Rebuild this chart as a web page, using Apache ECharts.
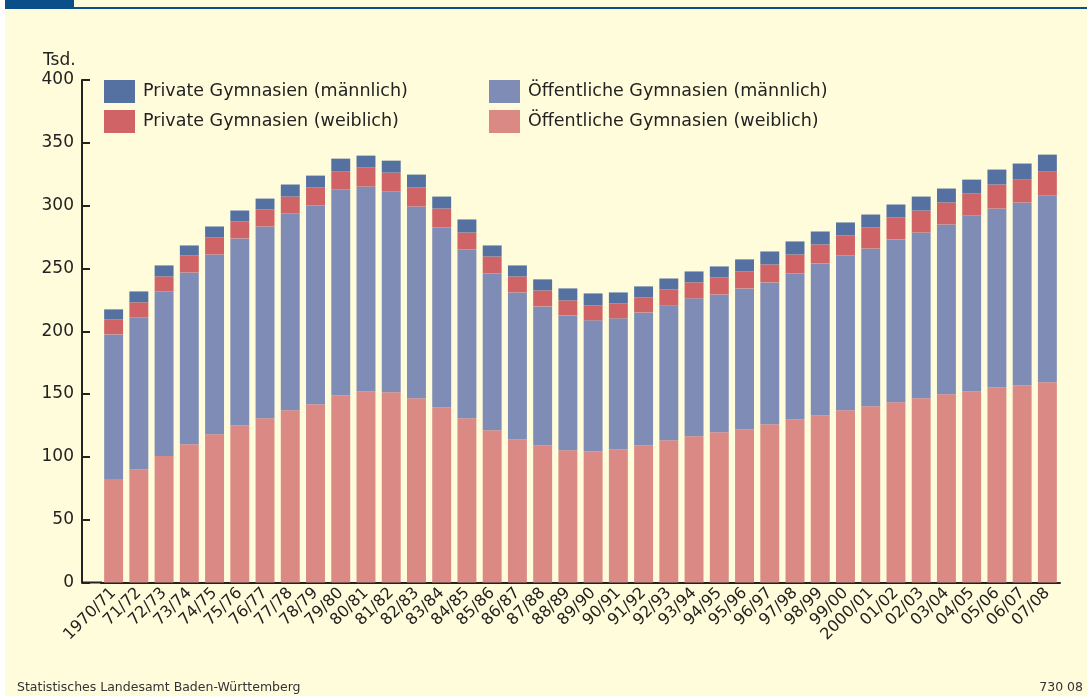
<!DOCTYPE html>
<html>
<head>
<meta charset="utf-8">
<script src="https://cdn.jsdelivr.net/npm/echarts@6/dist/echarts.min.js"></script>
<style>
  html, body { margin: 0; padding: 0; background: #fff; }
  #demo { width: 1087px; height: 696px; }
</style>
</head>
<body>
<div id="demo"></div>
<script>
// Schuljahre
var years = ['1970/71','71/72','72/73','73/74','74/75','75/76','76/77','77/78','78/79','79/80',
  '80/81','81/82','82/83','83/84','84/85','85/86','86/87','87/88','88/89','89/90',
  '90/91','91/92','92/93','93/94','94/95','95/96','96/97','97/98','98/99','99/00',
  '2000/01','01/02','02/03','03/04','04/05','05/06','06/07','07/08'];

// Tsd. Schüler
var oeffWeiblich = [82.3, 90.2, 100.6, 110.1, 118.1, 125.2, 130.8, 137.1, 141.9, 149.0,
  152.2, 151.4, 146.7, 139.5, 130.8, 121.2, 114.1, 109.3, 105.3, 104.5,
  106.1, 109.3, 113.3, 116.5, 119.6, 122.0, 126.0, 130.0, 133.2, 137.1,
  140.3, 143.5, 146.7, 149.8, 152.2, 155.4, 157.0, 159.4];
var oeffMaennlich = [115.2, 120.6, 130.9, 136.7, 143.0, 148.7, 152.6, 156.6, 158.2, 163.8,
  163.0, 159.8, 152.6, 143.1, 134.3, 124.8, 116.8, 110.5, 107.3, 104.2,
  104.2, 105.7, 107.3, 109.7, 109.7, 112.1, 112.9, 116.0, 120.8, 123.2,
  125.6, 129.6, 131.9, 135.2, 139.9, 142.3, 145.5, 148.6];
var privWeiblich = [12.0, 12.2, 12.1, 13.5, 13.5, 13.5, 13.5, 13.5, 14.3, 14.3,
  15.1, 15.1, 15.1, 15.1, 13.5, 13.5, 12.7, 12.7, 12.0, 11.9,
  11.9, 12.0, 12.7, 12.7, 13.5, 13.5, 14.3, 15.1, 15.1, 15.9,
  16.7, 17.4, 17.5, 17.5, 17.5, 19.1, 18.2, 19.1];
var privMaennlich = [7.9, 8.7, 8.8, 8.0, 8.8, 8.7, 8.7, 9.6, 9.5, 10.3,
  9.5, 9.5, 10.3, 9.5, 10.4, 8.8, 8.8, 8.8, 9.5, 9.5,
  8.7, 8.7, 8.7, 8.7, 8.8, 9.6, 10.3, 10.4, 10.3, 10.4,
  10.3, 10.4, 11.1, 11.1, 11.1, 11.9, 12.8, 13.5];

var yTicks = [0, 50, 100, 150, 200, 250, 300, 350, 400];

var font = '"DejaVu Sans", sans-serif';
var txt = '#222';

var myChart = echarts.init(document.getElementById('demo'));

var option = {
  backgroundColor: '#fffcdb',
  textStyle: { fontFamily: font },
  animation: false,
  graphic: [
    // weisser Rand links
    { type: 'rect', shape: { x: 0, y: 0, width: 5, height: 696 }, style: { fill: '#fff' } },
    // Kopfleiste
    { type: 'rect', shape: { x: 5, y: 0, width: 69, height: 7 }, style: { fill: '#0b4f8a' } },
    { type: 'rect', shape: { x: 5, y: 7, width: 1082, height: 2 }, style: { fill: '#0b4f8a' } },
    // x-Achse bis zur y-Achse verlängern
    { type: 'line', shape: { x1: 81, y1: 582.5, x2: 102, y2: 582.5 }, style: { stroke: '#222', lineWidth: 2 } },
    { type: 'text', left: 43, top: 52, style: { text: 'Tsd.', font: '17px ' + font, fill: txt } },
    { type: 'text', left: 17, top: 681, style: { text: 'Statistisches Landesamt Baden-Württemberg', font: '12.5px ' + font, fill: '#333' } },
    { type: 'text', right: 4, top: 681, style: { text: '730 08', font: '12.5px ' + font, fill: '#333' } }
  ],
  legend: [{
    left: 104, top: 80, orient: 'vertical', padding: 0,
    itemWidth: 31, itemHeight: 23, itemGap: 7, icon: 'rect',
    textStyle: { fontSize: 17.5, color: txt, padding: [0, 0, 0, 3] },
    data: ['Private Gymnasien (männlich)', 'Private Gymnasien (weiblich)']
  }, {
    left: 489, top: 80, orient: 'vertical', padding: 0,
    itemWidth: 31, itemHeight: 23, itemGap: 7, icon: 'rect',
    textStyle: { fontSize: 17.5, color: txt, padding: [0, 0, 0, 3] },
    data: ['Öffentliche Gymnasien (männlich)', 'Öffentliche Gymnasien (weiblich)']
  }],
  grid: { left: 101, right: 27, top: 80, bottom: 113.5 },
  xAxis: {
    type: 'category',
    data: years,
    axisTick: { show: false },
    axisLine: { lineStyle: { color: '#222', width: 2 } },
    axisLabel: { rotate: 45, interval: 0, fontSize: 16, color: txt, margin: 8 }
  },
  yAxis: {
    type: 'value',
    min: yTicks[0], max: yTicks[yTicks.length - 1], interval: 50,
    offset: 19,
    splitLine: { show: false },
    axisLine: { show: true, lineStyle: { color: '#222', width: 2 } },
    axisTick: { show: true, inside: true, length: 8, lineStyle: { width: 2 } },
    axisLabel: { fontSize: 17, color: txt, margin: 8 }
  },
  series: [{
    name: 'Öffentliche Gymnasien (weiblich)', type: 'bar', stack: 'gesamt',
    barCategoryGap: '25%', itemStyle: { color: '#da8985' }, data: oeffWeiblich
  }, {
    name: 'Öffentliche Gymnasien (männlich)', type: 'bar', stack: 'gesamt',
    itemStyle: { color: '#7f8db6' }, data: oeffMaennlich
  }, {
    name: 'Private Gymnasien (weiblich)', type: 'bar', stack: 'gesamt',
    itemStyle: { color: '#d06365' }, data: privWeiblich
  }, {
    name: 'Private Gymnasien (männlich)', type: 'bar', stack: 'gesamt',
    itemStyle: { color: '#5571a1' }, data: privMaennlich
  }]
};

myChart.setOption(option);
</script>
</body>
</html>
